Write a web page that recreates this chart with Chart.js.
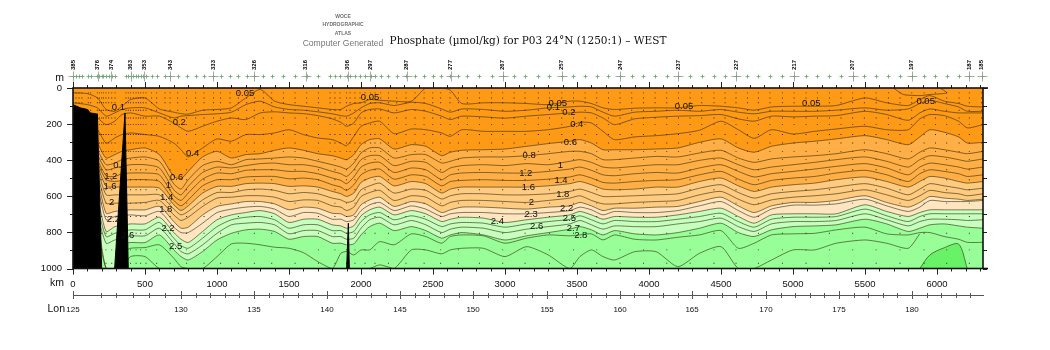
<!DOCTYPE html>
<html>
<head>
<meta charset="utf-8">
<title>Phosphate section P03 west</title>
<style>
  html, body { margin: 0; padding: 0; background: #fff; }
  #wrap { width: 1050px; height: 350px; }
</style>
<script src="https://cdn.jsdelivr.net/npm/chart.js@4"></script>
</head>
<body>
<div id="wrap"><canvas id="section" width="1050" height="350"></canvas></div>
<script>
// Distance along the section (km), shared by all the contour lines below
const km = [0,100,170,230,290,340,400,
  500,600,700,750,800,900,1000,1100,1200,1300,1400,1500,1600,1700,1800,1860,1900,1950,2000,
  2060,2130,2230,2350,2450,2560,2620,2700,2850,3000,3150,3300,3450,3520,3600,3680,3760,3900,4050,4200,4350,4500,4620,4730,4850,5000,5150,5300,5500,5650,5800,5880,5950,6050,6150,6210,6319];

// Contour depths (m), one list per phosphate level
const p005 = [27,31,55,119,129,101,64, 55,116,134,142,145,123,119,110,55,8,73,92,101,110,119,119,101,86,82, 64,68,73,73,0,0,12,86,82,82,86,92,73,73,86,110,119,112,110,110,97,101,110,123,105,101,101,97,55,82,97,64,42,73,86,101,105];
const p010 = [82,92,110,156,138,119,110, 110,138,166,156,153,147,143,134,92,73,105,119,123,132,143,153,156,138,110, 86,82,97,79,86,116,134,116,119,129,123,110,105,101,105,134,156,134,129,123,129,119,134,143,129,129,129,123,110,123,116,86,68,86,105,129,129];
const p020 = [110,138,166,203,184,147,138, 156,156,194,221,240,212,184,166,175,138,132,138,142,153,171,190,212,194,138, 119,116,138,119,129,156,175,156,160,167,156,147,138,134,138,166,203,171,162,156,153,147,171,184,156,160,156,153,129,147,179,138,116,129,138,138,138];
const p040 = [138,194,231,305,277,258,249, 258,268,305,342,382,332,282,295,258,258,249,231,258,277,286,305,320,268,212, 194,184,253,227,231,249,268,231,240,240,240,231,212,190,194,240,286,271,264,253,234,184,231,279,231,255,240,227,212,231,231,171,147,153,184,221,203];
const p060 = [175,212,305,388,369,351,342, 332,369,490,503,462,382,351,388,369,364,345,332,345,364,375,388,397,369,314, 286,282,338,314,323,375,356,345,342,338,323,308,295,286,305,342,342,342,338,332,301,282,332,356,323,305,295,282,264,286,314,271,231,245,271,305,301];
const p080 = [194,231,342,425,416,397,388, 382,406,531,560,508,430,406,425,397,393,388,382,388,406,425,438,449,416,360, 332,332,388,369,369,416,406,388,382,382,375,364,351,351,364,397,397,388,379,382,360,345,388,412,393,382,375,364,342,364,393,356,332,342,356,364,351];
const p100 = [203,249,369,453,443,434,425, 425,443,564,592,545,468,438,443,430,419,416,425,425,438,462,475,490,453,397, 375,375,430,406,412,468,443,430,425,430,419,425,406,397,412,438,443,434,425,425,401,388,425,453,438,425,412,397,382,406,438,397,375,382,397,406,393];
const p120 = [212,268,397,486,490,475,471, 471,481,597,623,582,505,471,475,456,453,453,462,462,475,499,512,530,493,438, 416,412,468,443,453,508,481,471,468,471,471,462,449,438,456,481,486,475,468,471,443,425,462,493,475,462,449,434,419,443,481,438,416,425,438,449,438];
const p140 = [231,286,416,508,518,512,508, 508,518,623,653,620,542,508,508,493,490,490,503,499,508,536,549,567,536,481, 456,449,505,481,490,542,518,512,508,512,512,505,493,481,499,523,527,518,512,508,481,462,505,536,512,499,490,471,456,481,518,475,453,462,475,490,481];
const p160 = [249,305,434,545,549,549,549, 549,555,647,679,653,582,545,545,530,527,530,545,542,549,573,586,601,582,523, 499,490,542,518,530,582,560,549,549,549,549,542,530,518,536,560,564,560,549,549,518,499,542,573,549,536,527,508,493,518,549,518,490,499,518,527,518];
const p180 = [268,323,453,592,592,592,592, 592,592,671,703,684,620,579,579,564,560,567,586,579,586,610,620,634,623,564, 542,527,582,560,567,615,597,586,586,592,592,586,573,560,579,601,601,597,592,586,555,536,579,610,586,573,564,549,530,555,592,560,530,542,555,564,555];
const p200 = [286,342,481,638,638,638,638, 634,623,703,734,716,656,610,605,597,597,605,629,620,623,653,660,679,660,601, 579,567,623,597,605,653,634,623,623,629,634,623,610,597,623,642,642,634,629,623,592,573,616,647,620,605,597,586,564,592,623,597,567,579,586,597,586];
const p220 = [305,360,508,694,684,679,675, 675,656,740,777,771,703,656,642,629,629,642,675,660,666,694,697,712,703,647, 620,605,656,629,642,690,675,660,660,666,671,660,653,634,653,679,666,666,660,656,629,605,653,690,653,634,634,623,597,634,660,634,601,610,616,623,616];
const p230 = [323,379,545,730,712,708,703, 708,684,771,801,801,749,690,671,660,656,671,712,690,694,727,727,740,730,679, 647,634,679,653,671,712,697,690,690,697,697,690,679,660,675,703,684,690,690,679,653,629,679,716,671,649,649,642,616,653,684,660,623,629,629,629,623];
const p240 = [342,397,601,795,768,762,753, 753,716,801,838,856,795,730,703,690,679,697,745,727,727,758,764,777,764,708, 675,660,703,679,697,740,727,716,721,745,730,716,703,684,703,727,712,716,716,703,684,666,712,749,703,697,697,697,647,684,712,690,675,675,675,675,675];
const p250 = [360,416,656,823,805,795,786, 786,745,832,873,888,832,768,730,716,712,730,777,758,758,790,790,805,795,740, 703,690,730,708,727,768,753,745,749,771,753,740,727,708,730,753,734,740,740,727,712,694,740,771,727,716,716,712,671,708,740,712,697,697,697,697,697];
const p260 = [379,434,694,860,842,832,819, 819,777,860,906,919,869,805,758,749,745,758,808,790,790,823,823,838,832,777, 730,716,758,734,758,801,782,771,777,801,782,768,753,734,758,782,764,768,768,753,740,721,768,795,753,740,740,734,697,730,764,740,727,727,730,734,730];
const p270 = [397,453,730,1000,1000,869,856, 856,814,897,934,953,906,842,805,786,782,795,838,823,823,860,860,869,864,814, 768,749,790,768,790,832,814,801,814,842,819,801,782,768,786,814,790,808,814,801,777,749,801,823,786,768,764,758,727,753,795,777,758,753,764,771,777];
const p280 = [416,471,786,1000,1000,916,888, 884,869,943,990,1000,1000,934,864,860,869,882,888,912,962,1000,916,906,925,897, 897,851,869,808,823,860,823,814,819,860,832,814,819,814,808,842,814,838,842,827,814,790,888,860,814,808,805,786,771,808,814,801,801,823,838,855,855];
const p290 = [1000,1000,1000,1000,1000,1000,934, 934,1000,1000,1000,1000,1000,1000,1000,1000,1000,1000,1000,1000,1000,1000,1000,1000,1000,1000, 1000,980,1000,897,897,919,897,888,888,934,879,925,1000,934,897,934,953,907,907,990,916,879,1000,1000,953,897,897,860,842,860,888,808,null,null,null,null,null];

// Deepest closed contour, near 6000 km
const domeKm = [5880,5950,6050,6150,6210];
const domeDepth = [1000,925,885,865,1000];

// Small surface contour near 5800 km
const patchKm = [5697,5766,5882,5951,6068,6021];
const patchDepth = [0,36,42,36,27,0];

// Sea floor; nulls break it into separate ridges
const floorKm = [0,50,100,120,165,169,199,200, 289,361,384,385, 1900,1912,1919];
const floorDepth = [92,110,119,138,144,143,1000,null, 1000,138,1000,null, 1000,749,1000];

// Stations along the top of the section
const stationKm = [0,21,42,62,106,123,169,183,199,211,229,248,269,292,368,384,400,419,438,454,470,488,507,546,581,639,674,727,789,852,910,975,1025,1090,1148,1206,1259,1322,1380,1461,1542,1623,1704,1785,1819,1854,1900,1924,1958,1993,2028,2067,2097,2137,2190,2248,2312,2375,2438,2498,2553,2618,2676,2738,2822,2907,2984,3063,3139,3231,3308,3394,3475,3556,3637,3718,3799,3880,3961,4042,4123,4204,4285,4366,4451,4528,4604,4683,4759,4840,4926,5007,5090,5169,5252,5333,5414,5495,5577,5662,5743,5824,5910,5989,6067,6153,6224,6310];
const namedStationKm = [0,171,264,400,493,674,975,1257,1616,1907,2063,2318,2623,2984,3394,3799,4204,4604,5007,5414,5824,6224,6310];
const namedStations = ['385','376','374','363','353','343','333','326','316','306','297','287','277','267','257','247','237','227','217','207','197','187','185'];

// Bottle depths sampled at the stations
const shallowBottles = [27,55,82,123,166,203,258,305,351];
const deepBottles = [397,453,508,564,638,712,805,897,971];

// Contour labels
const labelText = ['0.05','0.1','0.2','0.4','0.6','1','1.4','1.8','2.2','2.5','0.8','1.2','1.6','2','2.2','2.6',
  '0.05','0.05','0.1','0.2','0.4','0.6','0.8','1','1.2','1.4','1.6','1.8','2','2.2','2.3','2.4','2.5','2.6','2.7','2.8','0.05','0.05','0.05'];
const labelKm = [1194,315,738,831,720,662,650,644,660,713,326,262,257,268,280,380,
  2062,3366,3336,3444,3498,3454,3167,3384,3144,3389,3162,3401,3183,3428,3181,2947,3447,3220,3475,3526,4243,5127,5921];
const labelDepth = [30,105,190,364,497,542,605,670,775,880,430,492,544,636,730,814,
  53,86,108,136,203,301,375,430,475,514,551,592,631,669,699,740,725,768,777,814,103,86,75];

// Axis tick values
const kmTicks = [0,500,1000,1500,2000,2500,3000,3500,4000,4500,5000,5500,6000];
const depthTicks = [0,200,400,600,800,1000];

// Longitude axis, positions in km along the track
const lonLabels = [125,130,135,140,145,150,155,160,165,170,175,180];
const lonKm = [0,750,1257,1764,2271,2778,3292,3799,4299,4812,5319,5826];
const lonMinorKm = [194,300,420,530,640,851,953,1054,1156,1358,1460,1561,1663,1865,1967,2068,2170,2372,2474,2575,2677,2881,2984,3086,3189,3393,3495,3596,3698,3899,3999,4099,4199,4402,4504,4607,4709,4913,5015,5116,5218,5420,5522,5623,5725,5928,6029,6131,6232];

const maxKm = 6319;
const lineColor = 'rgba(50,45,10,0.72)';

function points(xs, ys) {
    return xs.map((x, i) => ({ x: x, y: ys[i] }));
}

// Fill colour starts at these levels, everything above them keeps the colour of the plot background
const bandColors = new Map([
    [p060, '#ffaf45'],
    [p160, '#ffcb80'],
    [p220, '#ffe6c0'],
    [p240, '#c6ffbe'],
    [p270, '#98ff98']
]);

const contourLists = [p005,p010,p020,p040,p060,p080,p100,p120,p140,p160,p180,p200,p220,p230,p240,p250,p260,p270,p280,p290];

const datasets = contourLists.map((list, i) => ({
    label: 'level ' + i,
    data: points(km, list),
    borderColor: lineColor,
    borderWidth: 0.85,
    pointRadius: 0,
    tension: 0.22,
    fill: bandColors.has(list) ? { value: 1000 } : false,
    backgroundColor: bandColors.get(list) || 'transparent',
    order: 100 - i
}));

datasets.push({
    label: 'dome',
    data: points(domeKm, domeDepth),
    borderColor: lineColor,
    borderWidth: 0.85,
    pointRadius: 0,
    tension: 0.3,
    fill: { value: 1000 },
    backgroundColor: '#68f268',
    order: 60
});
datasets.push({
    label: 'patch',
    data: points(patchKm, patchDepth),
    borderColor: lineColor,
    borderWidth: 0.85,
    pointRadius: 0,
    tension: 0.2,
    fill: false,
    order: 59
});

let bottles = [];
stationKm.forEach((k, i) => {
    shallowBottles.forEach((d) => bottles.push({ x: k, y: d }));
    if (i % 2 === 0) {
        deepBottles.forEach((d) => bottles.push({ x: k, y: d }));
    }
});
datasets.push({
    label: 'bottles',
    data: bottles,
    showLine: false,
    pointStyle: 'rect',
    pointRadius: 0.65,
    pointBackgroundColor: '#221a08',
    pointBorderWidth: 0,
    order: 50
});

datasets.push({
    label: 'floor',
    data: points(floorKm, floorDepth),
    borderColor: '#000',
    borderWidth: 1,
    pointRadius: 0,
    tension: 0,
    fill: { value: 1000 },
    backgroundColor: '#000',
    order: 1
});

// Everything a Chart.js axis can't draw on its own: background, contour labels, frame, tick marks, station strip
const sectionPlugin = {
    id: 'sectionPlugin',
    beforeDatasetsDraw(chart) {
        const a = chart.chartArea;
        chart.ctx.fillStyle = '#ff9a16';
        chart.ctx.fillRect(a.left, a.top, a.right - a.left, a.bottom - a.top);
    },
    // labels go right under the sea floor so the ridges cut them off
    beforeDatasetDraw(chart, args) {
        if (chart.data.datasets[args.index].label !== 'floor') return;
        const ctx = chart.ctx, x = chart.scales.x, y = chart.scales.y;
        ctx.save();
        ctx.fillStyle = '#111';
        ctx.font = '9.5px "Liberation Sans"';
        ctx.textAlign = 'center';
        ctx.textBaseline = 'middle';
        labelText.forEach((t, i) => {
            ctx.fillText(t, x.getPixelForValue(labelKm[i]), y.getPixelForValue(labelDepth[i]));
        });
        ctx.restore();
    },
    afterDatasetsDraw(chart) {
        const ctx = chart.ctx, a = chart.chartArea, x = chart.scales.x, y = chart.scales.y;
        ctx.save();

        function tick(x1, y1, x2, y2) {
            ctx.beginPath();
            ctx.moveTo(x1, y1);
            ctx.lineTo(x2, y2);
            ctx.stroke();
        }

        // km ticks, top and bottom
        ctx.strokeStyle = '#222';
        ctx.lineWidth = 1;
        for (let k = 0; k <= maxKm; k += 100) {
            const px = Math.round(x.getPixelForValue(k)) + 0.5;
            const len = k % 500 === 0 ? 6 : 3;
            tick(px, a.top, px, a.top - len);
            tick(px, a.bottom, px, a.bottom + len);
        }
        // depth ticks, left and right
        for (let d = 0; d <= 1000; d += 100) {
            const py = Math.round(y.getPixelForValue(d)) + 0.5;
            tick(a.left, py, a.left - (d % 200 === 0 ? 6 : 3), py);
            tick(a.right, py, a.right + 4, py);
        }

        // frame
        ctx.strokeStyle = '#111';
        ctx.lineWidth = 1.6;
        ctx.strokeRect(a.left, a.top, a.right - a.left, a.bottom - a.top);
        tick(a.right, a.top, a.right + 5, a.top);
        tick(a.right, a.bottom, a.right + 5, a.bottom);

        // station strip above the plot
        const stripY = 76.5;
        ctx.lineWidth = 0.8;
        ctx.strokeStyle = '#5aa862';
        stationKm.forEach((k) => {
            const px = Math.round(x.getPixelForValue(k)) + 0.5;
            tick(px - 2, stripY, px + 2, stripY);
            tick(px, stripY - 2, px, stripY + 2);
        });
        ctx.strokeStyle = '#8a9a8a';
        namedStationKm.forEach((k) => {
            const px = Math.round(x.getPixelForValue(k)) + 0.5;
            tick(px - 5, stripY, px + 5, stripY);
            tick(px, stripY - 5, px, stripY + 5);
        });
        ctx.fillStyle = '#000';
        ctx.font = 'bold 6px "Liberation Sans"';
        ctx.textAlign = 'center';
        ctx.textBaseline = 'middle';
        namedStations.forEach((name, i) => {
            ctx.save();
            ctx.translate(x.getPixelForValue(namedStationKm[i]), 65);
            ctx.rotate(-Math.PI / 2);
            ctx.fillText(name, 0, 0);
            ctx.restore();
        });

        // longitude ticks, the line itself is the border of the lon axis
        const lon = chart.scales.lon;
        ctx.strokeStyle = '#555';
        ctx.lineWidth = 1;
        lonMinorKm.forEach((k) => {
            const px = Math.round(lon.getPixelForValue(k)) + 0.5;
            tick(px, lon.top - 2, px, lon.top + 3);
        });
        lonKm.forEach((k) => {
            const px = Math.round(lon.getPixelForValue(k)) + 0.5;
            tick(px, lon.top - 4, px, lon.top + 4);
        });

        // axis names and the atlas stamp
        ctx.fillStyle = '#111';
        ctx.textAlign = 'right';
        ctx.font = '10.5px "Liberation Sans"';
        ctx.fillText('m', 64, 78);
        ctx.fillText('km', 64, 283);
        ctx.fillText('Lon', 65, 309);

        ctx.textAlign = 'center';
        ctx.fillStyle = '#6e6e6e';
        ctx.font = 'bold 5px "Liberation Sans"';
        ctx.fillText('WOCE', 343, 16.5);
        ctx.fillText('HYDROGRAPHIC', 343, 25);
        ctx.fillText('ATLAS', 343, 34);
        ctx.fillStyle = '#777';
        ctx.font = '8.6px "Liberation Sans"';
        ctx.fillText('Computer Generated', 343, 43.5);
        ctx.restore();
    }
};

new Chart(document.getElementById('section'), {
    type: 'line',
    data: { datasets: datasets },
    plugins: [sectionPlugin],
    options: {
        responsive: false,
        animation: false,
        layout: { padding: { left: 0, right: 67, top: 0, bottom: 0 } },
        plugins: {
            legend: { display: false },
            tooltip: { enabled: false },
            title: {
                display: true,
                fullSize: false,
                text: 'Phosphate (\u00b5mol/kg) for P03 24\u00b0N (1250:1) \u2013 WEST',
                color: '#111',
                font: { family: '"DejaVu Serif"', size: 10.5, weight: 'normal', lineHeight: 1.2 },
                padding: { top: 34.5, bottom: 40.9 }
            }
        },
        scales: {
            x: {
                type: 'linear',
                position: 'bottom',
                min: 0,
                max: maxKm,
                grid: { display: false, drawTicks: false },
                border: { display: false },
                afterBuildTicks: (scale) => { scale.ticks = kmTicks.map((k) => ({ value: k })); },
                ticks: {
                    autoSkip: false,
                    maxRotation: 0,
                    padding: 10,
                    color: '#111',
                    font: { family: '"Liberation Sans"', size: 9.5 },
                    callback: (v) => String(v)
                },
                afterFit: (scale) => { scale.height = 26.5; }
            },
            lon: {
                type: 'linear',
                position: 'bottom',
                min: 0,
                max: maxKm,
                grid: { display: false, drawTicks: false },
                border: { display: true, color: '#555', width: 1 },
                afterBuildTicks: (scale) => { scale.ticks = lonKm.map((k) => ({ value: k })); },
                ticks: {
                    autoSkip: false,
                    maxRotation: 0,
                    padding: 10,
                    color: '#111',
                    font: { family: '"Liberation Sans"', size: 8 },
                    callback: (v) => String(lonLabels[lonKm.indexOf(v)])
                },
                afterFit: (scale) => { scale.height = 55; }
            },
            y: {
                type: 'linear',
                reverse: true,
                min: 0,
                max: 1000,
                grid: { display: false, drawTicks: false },
                border: { display: false },
                afterBuildTicks: (scale) => { scale.ticks = depthTicks.map((d) => ({ value: d })); },
                ticks: {
                    padding: 11,
                    color: '#111',
                    font: { family: '"Liberation Sans"', size: 9.5 },
                    callback: (v) => String(v)
                },
                afterFit: (scale) => { scale.width = 73; }
            }
        }
    }
});
</script>
</body>
</html>
